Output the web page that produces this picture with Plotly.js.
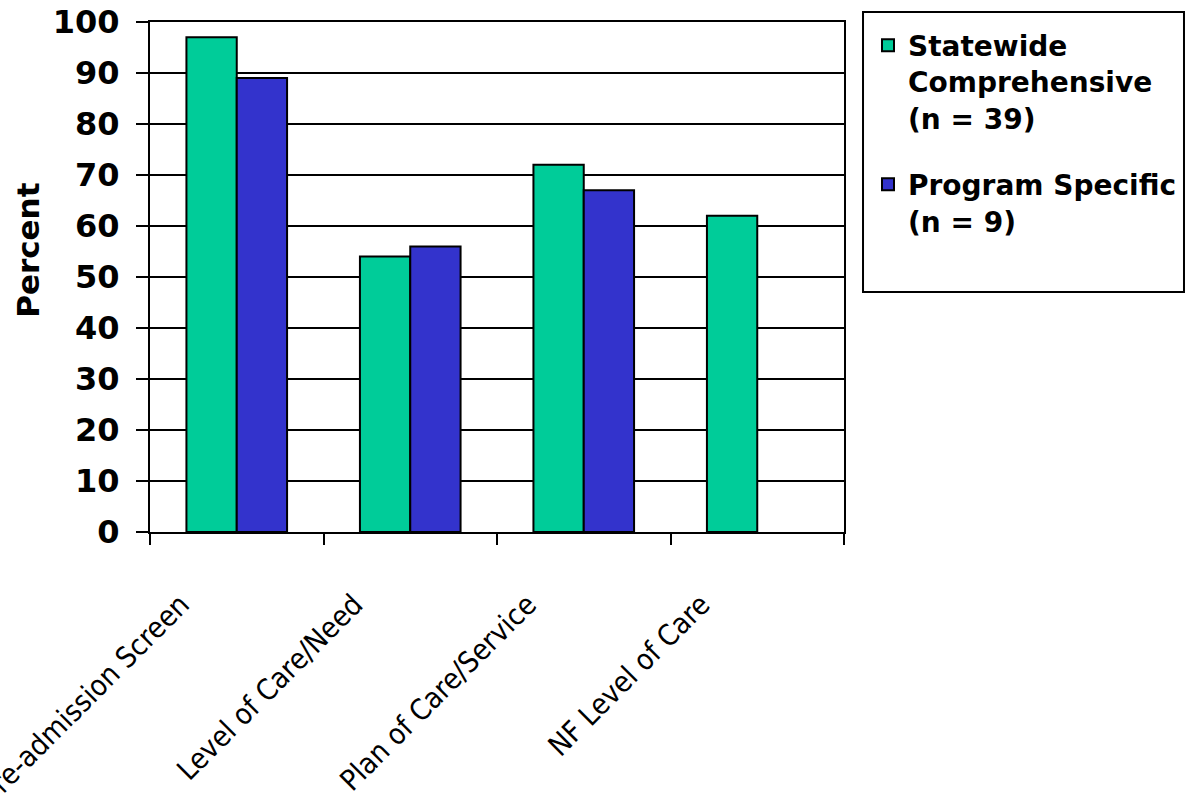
<!DOCTYPE html>
<html>
<head>
<meta charset="utf-8">
<script src="https://cdn.plot.ly/plotly-3.0.1.min.js"></script>
<style>html,body{margin:0;padding:0;background:#fff;}#chart{width:1188px;height:807px;}</style>
</head>
<body>
<div id="chart"></div>
<script>
const categories = ["Pre-admission Screen", "Level of Care/Need", "Plan of Care/Service", "NF Level of Care"];
const statewideName = "Statewide<br>Comprehensive<br>(n = 39)";
const programName = "Program Specific<br>(n = 9)";
const statewideValues = [97, 54, 72, 62];
const programValues = [89, 56, 67, null];
const yTickValues = [0, 10, 20, 30, 40, 50, 60, 70, 80, 90, 100];
const yTitle = "Percent";

const traces = [
  {
    type: "bar", x: categories, y: statewideValues, name: statewideName,
    legendgroup: "a",
    marker: {color: "#00CC99", line: {color: "#000", width: 2}},
    hoverinfo: "x+y"
  },
  {
    type: "bar", x: categories, y: programValues, name: programName,
    legendgroup: "b",
    marker: {color: "#3333CC", line: {color: "#000", width: 2}},
    hoverinfo: "x+y"
  }
];

const layout = {
  width: 1188, height: 807,
  margin: {l: 150, r: 344, t: 22, b: 275, autoexpand: false},
  paper_bgcolor: "#fff", plot_bgcolor: "#fff",
  barmode: "group", bargap: 0.42, bargroupgap: 0,
  font: {family: "DejaVu Sans", color: "#000"},
  xaxis: {
    type: "category",
    showline: true, linecolor: "#000", linewidth: 2, mirror: true,
    ticks: "outside", ticklen: 11, tickwidth: 2, tickcolor: "#000",
    tickson: "boundaries",
    tickangle: -45,
    ticklabelstandoff: 42,
    ticklabelshift: -56,
    tickfont: {family: "DejaVu Sans Condensed, DejaVu Sans", size: 29, color: "#000"},
    showgrid: false, zeroline: false, automargin: false
  },
  yaxis: {
    range: [0, 100], tickvals: yTickValues,
    showline: true, linecolor: "#000", linewidth: 2, mirror: true,
    ticks: "outside", ticklen: 12, tickwidth: 2, tickcolor: "#000",
    showgrid: true, gridcolor: "#000", gridwidth: 2, zeroline: false,
    ticklabelstandoff: 10,
    tickfont: {family: "DejaVu Sans", size: 32, color: "#000", weight: "bold"},
    automargin: false
  },
  showlegend: true,
  legend: {
    x: 1.0346, xanchor: "left", y: 1.003, yanchor: "top",
    bgcolor: "rgba(0,0,0,0)", borderwidth: 0,
    valign: "top", tracegroupgap: 27,
    font: {family: "DejaVu Sans", size: 28, color: "#000", weight: "bold"}
  },
  shapes: [
    {type: "rect", xref: "paper", yref: "paper", x0: 1.0274, x1: 1.4899, y0: 0.4706, y1: 1.0196,
     line: {color: "#000", width: 2}, fillcolor: "rgba(0,0,0,0)", layer: "below"}
  ],
  annotations: [
    {text: yTitle, xref: "paper", yref: "paper", x: -0.176, y: 0.553, textangle: -90,
     showarrow: false, xanchor: "center", yanchor: "middle",
     font: {family: "DejaVu Sans", size: 31, color: "#000", weight: "bold"}}
  ]
};

Plotly.newPlot("chart", traces, layout, {displayModeBar: false, staticPlot: true});
</script>
</body>
</html>
